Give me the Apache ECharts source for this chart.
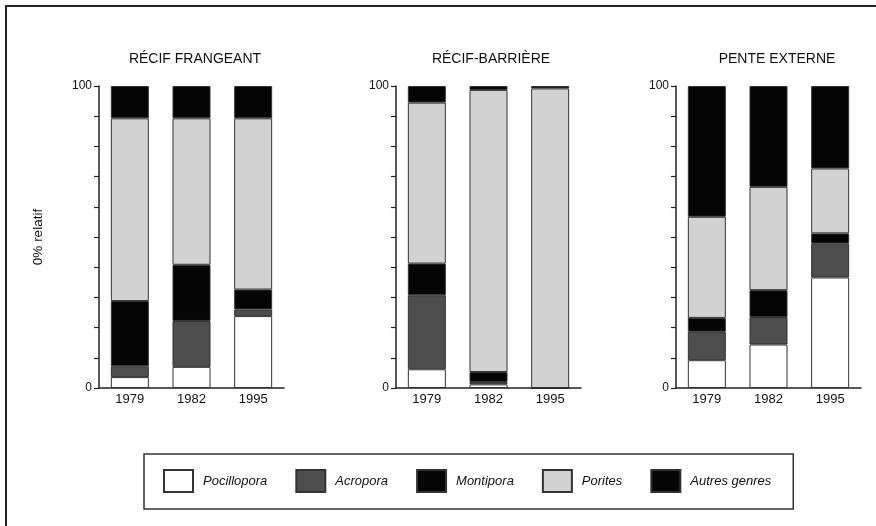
<!DOCTYPE html>
<html>
<head>
<meta charset="utf-8">
<script src="https://cdn.jsdelivr.net/npm/echarts@6/dist/echarts.min.js"></script>
<style>
  html, body { margin: 0; padding: 0; background: #fff; }
  #chart { width: 876px; height: 526px; }
</style>
</head>
<body>
<div id="chart"></div>
<script>
// Zones (panels) and years
const zones = ['RÉCIF FRANGEANT', 'RÉCIF-BARRIÈRE', 'PENTE EXTERNE'];
const years = ['1979', '1982', '1995'];

// % relatif per genre, one row per zone, one value per year
const pocillopora = [[3.6, 7.0, 23.8], [6.2, 1.2, 0], [9.2, 14.4, 36.6]];
const acropora = [[3.6, 15.2, 2.2], [24.5, 0.8, 0], [9.4, 9.1, 11.2]];
const montipora = [[21.6, 18.6, 6.6], [10.5, 3.3, 0], [4.6, 8.9, 3.4]];
const porites = [[60.5, 48.5, 56.7], [53.3, 93.4, 99.2], [33.5, 34.2, 21.5]];
const autres = [[10.7, 10.7, 10.7], [5.5, 1.3, 0.8], [43.3, 33.4, 27.3]];

const yTicks = [0, 100];

const genres = [
  { name: 'Pocillopora', data: pocillopora, color: '#ffffff' },
  { name: 'Acropora', data: acropora, color: '#4d4d4d' },
  { name: 'Montipora', data: montipora, color: '#050505' },
  { name: 'Porites', data: porites, color: '#d2d2d2' },
  { name: 'Autres genres', data: autres, color: '#050505' },
];

const font = "'Liberation Sans', Arial, sans-serif";
const gridLefts = [99, 396, 676];
const gridWidth = 185;
const titleCenters = [190, 486, 772];

const grids = gridLefts.map((left) => ({ left, top: 86, width: gridWidth, height: 302 }));

const xAxes = zones.map((z, i) => ({
  type: 'category',
  gridIndex: i,
  data: years,
  axisLine: { lineStyle: { color: '#222', width: 1.5 } },
  axisTick: { length: 5, lineStyle: { color: '#222', width: 1.5 } },
  axisLabel: { color: '#111', fontSize: 13, fontFamily: font, margin: 5 },
}));

const yAxes = zones.map((z, i) => ({
  type: 'value',
  gridIndex: i,
  min: 0,
  max: 100,
  interval: 10,
  name: i === 0 ? '0% relatif' : '',
  nameLocation: 'middle',
  nameGap: 54,
  nameRotate: 90,
  nameTextStyle: { color: '#111', fontSize: 13.5, fontFamily: font },
  axisLine: { show: true, lineStyle: { color: '#222', width: 1.5 } },
  axisTick: { show: true, length: 5, lineStyle: { color: '#222', width: 1.2 } },
  splitLine: { show: false },
  axisLabel: {
    color: '#111', fontSize: 12, fontFamily: font, margin: 7,
    formatter: (v) => (yTicks.includes(v) ? String(v) : ''),
  },
}));

const series = [];
zones.forEach((z, i) => {
  genres.forEach((g) => {
    series.push({
      name: g.name,
      type: 'bar',
      stack: 'zone' + i,
      xAxisIndex: i,
      yAxisIndex: i,
      barWidth: 38,
      data: g.data[i],
      itemStyle: { color: g.color, borderColor: '#333', borderWidth: 1 },
      emphasis: { disabled: true },
    });
  });
});

const chart = echarts.init(document.getElementById('chart'));
chart.setOption({
  backgroundColor: '#fff',
  animation: false,
  title: zones.map((z, i) => ({
    text: z,
    left: titleCenters[i],
    top: 47,
    textAlign: 'center',
    textStyle: { color: '#111', fontSize: 14, fontWeight: 'normal', fontFamily: font },
  })),
  legend: {
    data: genres.map((g) => g.name),
    left: 144,
    top: 454,
    padding: [15, 22, 16, 19],
    borderColor: '#333',
    borderWidth: 1.5,
    itemWidth: 29,
    itemHeight: 22,
    itemGap: 28,
    icon: 'rect',
    selectedMode: false,
    textStyle: { fontStyle: 'italic', fontSize: 13, color: '#111', fontFamily: font, padding: [0, 0, 0, 5] },
  },
  graphic: [{
    type: 'rect',
    shape: { x: 6, y: 6, width: 900, height: 600 },
    style: { fill: 'none', stroke: '#222', lineWidth: 2 },
    silent: true,
  }],
  grid: grids,
  xAxis: xAxes,
  yAxis: yAxes,
  series,
});
</script>
</body>
</html>
